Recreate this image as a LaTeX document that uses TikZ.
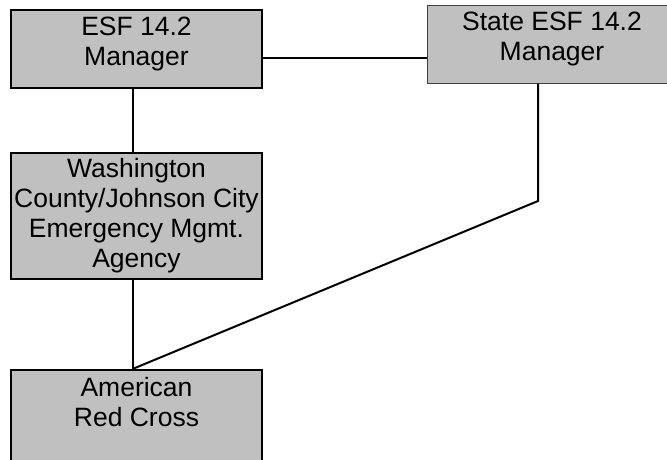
\documentclass[tikz,border=0pt]{standalone}
\usepackage{fontspec}
\setmainfont{Liberation Sans}

\definecolor{boxgray}{RGB}{192,192,192}

\tikzset{
  orgbox/.style={draw=black, fill=boxgray, line width=2pt, align=center,
    inner sep=2pt, minimum width=251pt, minimum height=78pt,
    font=\fontsize{26.5}{30}\selectfont},
  link/.style={line width=2pt}
}

\begin{document}
\begin{tikzpicture}[x=1pt, y=-1pt]
    % Page frame
    \useasboundingbox (0,0) rectangle (667,459);
    \clip (0,0) rectangle (667,459);

    % The four offices
    \node[orgbox, text depth=16pt] (mgr) at (136.5,49) {ESF 14.2\\Manager};
    \node[orgbox, draw=black!75, line width=1pt, minimum width=250pt, text depth=16pt] (state) at (552,44) {State ESF 14.2\\Manager};
    \node[orgbox, minimum height=126pt] (wash) at (136.5,216) {Washington\\County/Johnson City\\Emergency Mgmt.\\Agency};
    \node[orgbox, anchor=north, text depth=62pt, inner ysep=7pt] (arc) at (136.5,369) {American\\Red Cross};

    % Bend of the line coming down from the state office
    \coordinate (bend) at (538,201);

    % Lines between the offices
    \draw[link] ([yshift=-9pt]mgr.east) -- ([yshift=-9pt]mgr.east -| state.west);
    \draw[link] ([xshift=-4pt]mgr.south) -- ([xshift=-4pt]wash.north);
    \draw[link] ([xshift=-4pt]wash.south) -- ([xshift=-4pt]arc.north);
    \draw[link] ([xshift=-14pt]state.south) -- (bend) -- ([xshift=-4pt]arc.north);
\end{tikzpicture}
\end{document}
